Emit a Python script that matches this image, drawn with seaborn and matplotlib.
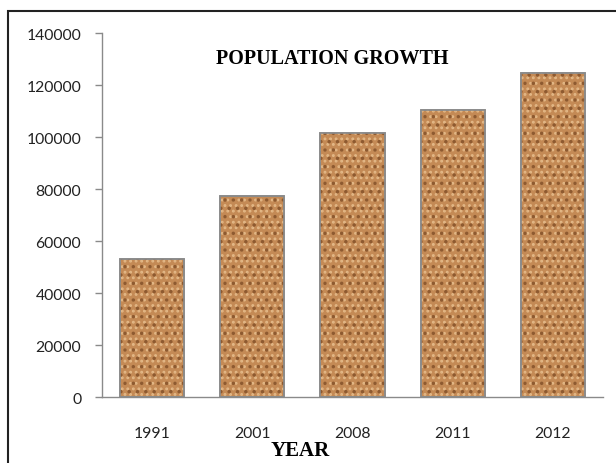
import numpy as np
import pandas as pd
import matplotlib
matplotlib.use("Agg")
import matplotlib.pyplot as plt
import seaborn as sns
from matplotlib.patches import Rectangle

sns.set_theme(style="white")
plt.rcParams['font.family'] = ['Lato', 'DejaVu Sans']
plt.rcParams['hatch.linewidth'] = 1.3

# данные
years = ["1991", "2001", "2008", "2011", "2012"]
population = [53200, 77500, 101500, 110400, 124800]
y_ticks = [0, 20000, 40000, 60000, 80000, 100000, 120000, 140000]

df = pd.DataFrame({"year": years, "population": population})

fig = plt.figure(figsize=(6.16, 4.64), dpi=100)
ax = fig.add_axes([0.1656, 0.1422, 0.8134, 0.7845])

sns.barplot(data=df, x="year", y="population", ax=ax, width=0.64,
            color="#c48a55", saturation=1, edgecolor="#8a8a8a", linewidth=1.2)

# "пробковая" текстура поверх столбцов
bars = list(ax.patches)
for bar in bars:
    x0, y0 = bar.get_xy()
    w, h = bar.get_width(), bar.get_height()
    for hatch, col in [("...", "#e3b887"), ("..", "#8e5a30")]:
        ax.add_patch(Rectangle((x0, y0), w, h, fill=False, hatch=hatch,
                               edgecolor=col, linewidth=0, zorder=bar.get_zorder() + 0.1))
    ax.add_patch(Rectangle((x0, y0), w, h, fill=False, edgecolor="#8a8a8a",
                           linewidth=1.2, zorder=bar.get_zorder() + 0.2))

ax.set_xlim(-0.5, 4.5)
ax.set_ylim(0, 140000)
ax.set_yticks(y_ticks)
ax.set_yticklabels([str(v) for v in y_ticks], fontsize=11.3, color="#222222")

# деления оси X на границах категорий
ax.set_xticks(np.arange(-0.5, 5, 1), minor=True)
ax.tick_params(axis="x", which="minor", length=6, width=1, color="#8a8a8a", direction="out")
ax.tick_params(axis="x", which="major", length=0, pad=21, labelsize=11.3, labelcolor="#222222")
ax.tick_params(axis="y", which="major", length=5, width=1, color="#8a8a8a", direction="out",
               pad=10, left=True)

for side in ["top", "right"]:
    ax.spines[side].set_visible(False)
for side in ["left", "bottom"]:
    ax.spines[side].set_color("#8a8a8a")
    ax.spines[side].set_linewidth(1)

ax.set_ylabel("")
ax.set_xlabel("YEAR", fontsize=15, fontweight="bold", family="Liberation Serif", color="black")
ax.xaxis.set_label_coords(0.395, -0.118)
ax.text(0.46, 0.93, "POPULATION GROWTH", transform=ax.transAxes, ha="center", va="center",
        fontsize=14.5, fontweight="bold", family="Liberation Serif", color="black")

# рамка области диаграммы
fig.patches.append(Rectangle((8 / 616, -0.1), 1.0, 1.0 - 12 / 464 + 0.1,
                             transform=fig.transFigure, fill=False,
                             edgecolor="#222222", linewidth=1.5))

fig.savefig("out.png", dpi=100)
plt.close(fig)
